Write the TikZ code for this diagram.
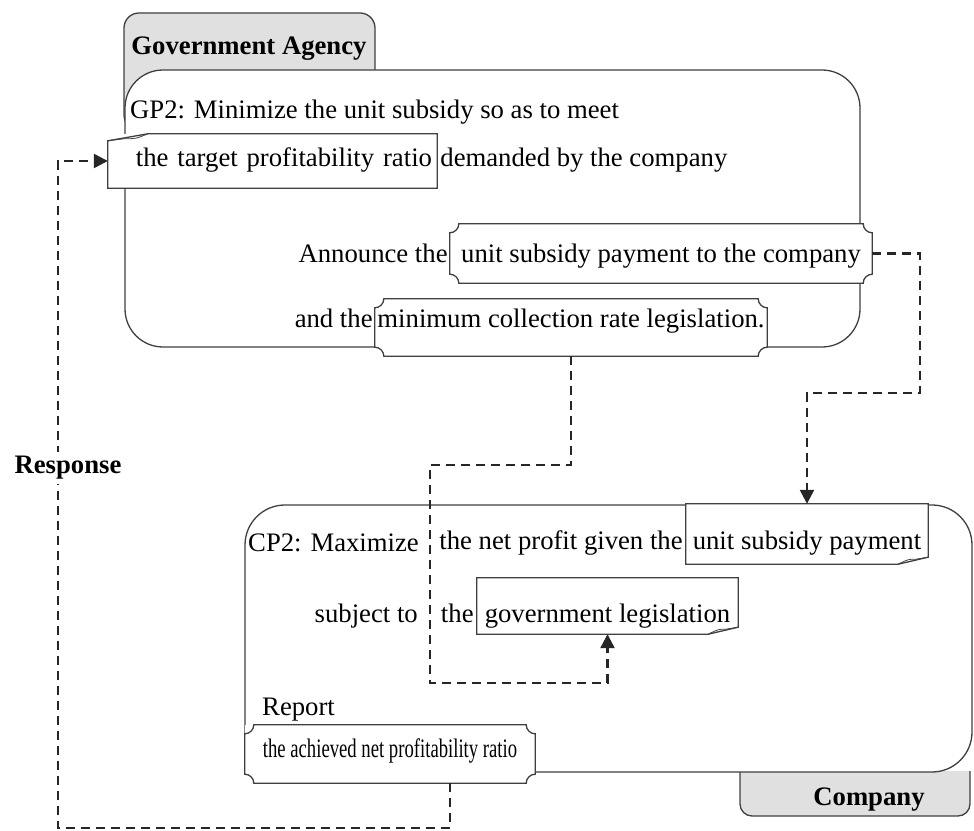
\documentclass[tikz,border=0pt]{standalone}
\usepackage{fontspec}
\setmainfont{Liberation Serif}
\usetikzlibrary{arrows.meta,positioning}

\newcommand{\txt}{\fontsize{26.7}{30}\selectfont}

% frame with hollow corners
\newcommand{\scrollframe}[1]{%
  \draw[rim] ([xshift=9pt]#1.north west) -- ([xshift=-9pt]#1.north east)
    arc[start angle=180, end angle=270, radius=9pt]
    -- ([yshift=9pt]#1.south east)
    arc[start angle=90, end angle=180, radius=9pt]
    -- ([xshift=9pt]#1.south west)
    arc[start angle=0, end angle=90, radius=9pt]
    -- ([yshift=-9pt]#1.north west)
    arc[start angle=270, end angle=360, radius=9pt] -- cycle;}

% note, folded corner at the bottom right
\newcommand{\noteSE}[1]{%
  \draw[rim] (#1.south west) -- ([xshift=-30pt]#1.south east)
    -- ([yshift=7pt]#1.south east) -- (#1.north east) -- (#1.north west) -- cycle;
  \draw[rim, line width=0.8pt] ([xshift=-30pt]#1.south east)
    .. controls ([xshift=-20pt,yshift=5pt]#1.south east) .. ([xshift=-12pt,yshift=5pt]#1.south east)
    -- ([yshift=7pt]#1.south east);}

% note, folded corner at the top left
\newcommand{\noteNW}[1]{%
  \draw[rim] (#1.north east) -- ([xshift=40pt]#1.north west)
    -- ([yshift=-7pt]#1.north west) -- (#1.south west) -- (#1.south east) -- cycle;
  \draw[rim, line width=0.8pt] ([xshift=40pt]#1.north west)
    .. controls ([xshift=28pt,yshift=-5pt]#1.north west) .. ([xshift=16pt,yshift=-5pt]#1.north west)
    -- ([yshift=-7pt]#1.north west);}

\tikzset{
  rim/.style={draw=black!75, line width=1.3pt},
  panel/.style={rim, fill=white},
  tab/.style={rim, fill=black!12},
  lbl/.style={inner sep=0pt, font=\txt, text height=18pt, text depth=6pt},
  tag/.style={lbl, font=\txt\bfseries},
  item/.style={lbl, fill=white, text depth=6pt},
  flow/.style={draw=black!85, line width=2.4pt, dash pattern=on 9pt off 6pt,
    -{Triangle[length=14pt,width=14pt]}},
}

\begin{document}
\begin{tikzpicture}[x=1pt, y=1pt]
    \useasboundingbox (0,0) rectangle (974,830);

    % --- Government Agency ---
    \draw[tab, rounded corners=15pt] (124,700) rectangle (375,817);
    \node[tag, anchor=base] (gatag) at (249,775) {Government Agency};
    \draw[panel, rounded corners=38pt] (125,483) rectangle (860,760);

    \node[lbl, anchor=base west] (gp2) at (130,711) {GP2: Minimize the unit subsidy so as to meet};

    \node[item, text width=319pt, inner xsep=5pt, align=right, minimum height=54pt,
          text height=17.4pt] (tgt) at (272.5,669) {the target profitability ratio};
    \noteNW{tgt}
    \node[lbl, anchor=base west] (dem) at ([xshift=3pt]tgt.base east) {demanded by the company};

    \node[item, minimum width=422pt, minimum height=59pt, text height=25pt] (ann) at (661,576.5)
        {unit subsidy payment to the company};
    \scrollframe{ann}
    \node[lbl, anchor=base east] (annlbl) at ([xshift=-2pt]ann.base west) {Announce the};

    \node[item, minimum width=392pt, minimum height=57pt, text height=7pt] (minl) at (571,502.5)
        {minimum collection rate legislation.};
    \scrollframe{minl}
    \node[lbl, anchor=base east] (andlbl) at ([xshift=-2pt]minl.base west) {and the};

    % --- Company ---
    \filldraw[tab, rounded corners=12pt] (740,59) -- (740,14) -- (970,14) -- (970,59);
    \node[tag, anchor=base] (cotag) at (869,25) {Company};
    \draw[panel, rounded corners=40pt] (245,58) rectangle (972,325);

    \node[lbl, anchor=base west] (cp2) at (248,278) {CP2: Maximize};

    \node[item, minimum width=242pt, minimum height=60pt, text height=38pt] (usp) at (807,296)
        {unit subsidy payment};
    \noteSE{usp}
    \node[lbl, anchor=base east] (netp) at ([xshift=-3pt]usp.base west) {the net profit given the};

    \node[lbl, anchor=base east] (subj) at (418,207) {subject to};
    \node[item, minimum width=261pt, minimum height=56pt, text height=40pt] (gleg) at (607.5,224)
        {government legislation};
    \noteSE{gleg}
    \node[lbl, anchor=base east] (thelbl) at ([xshift=-3pt]gleg.base west) {the};

    \node[lbl, anchor=base west] (rep) at (262,114) {Report};
    \node[item, minimum width=290pt, minimum height=58pt, text height=12pt] (ach) at (390,76)
        {\scalebox{0.7}[1]{the achieved net profitability ratio}};
    \scrollframe{ach}

    % --- Connectors ---
    \coordinate (c1) at (920,437);
    \draw[flow] (ann.east) -| (c1) -| (usp.north);

    \coordinate (c2) at (430,365);
    \coordinate (c3) at (430,147);
    \draw[flow] (minl.south) |- (c2) -- (c3) -| (gleg.south);

    \coordinate (rb) at (58,2);
    \draw[flow] ([xshift=60pt]ach.south) |- (rb) |- (tgt.west);
    \node[tag, fill=white, inner xsep=3pt, inner ysep=4pt] (resp) at (68,362) {Response};

\end{tikzpicture}
\end{document}
